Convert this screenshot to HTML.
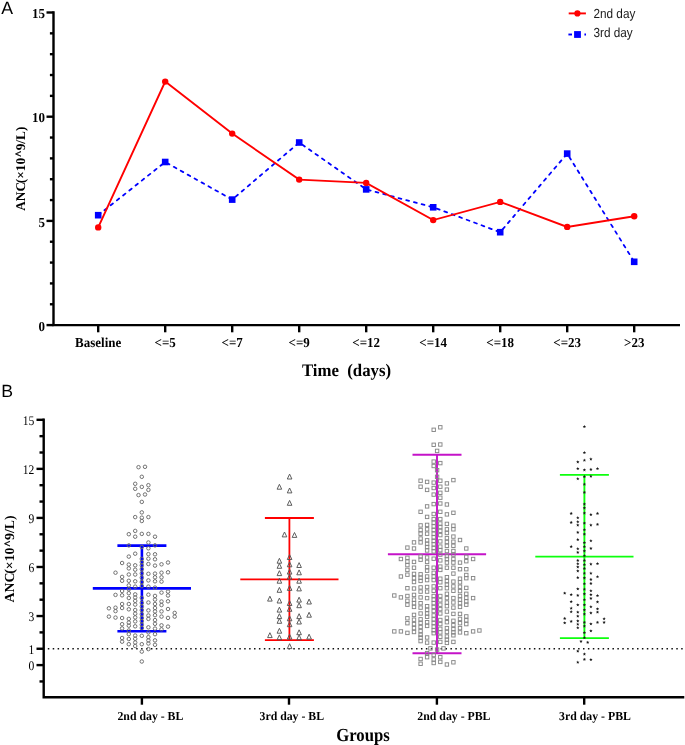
<!DOCTYPE html>
<html><head><meta charset="utf-8"><title>ANC figure</title>
<style>
html,body{margin:0;padding:0;background:#fff;}
body{width:685px;height:745px;overflow:hidden;font-family:"Liberation Sans",sans-serif;}
svg{display:block;will-change:transform;text-rendering:geometricPrecision;}
</style></head>
<body>
<svg width="685" height="745" viewBox="0 0 685 745">
<path d="M53.5 11.3V325.1H680" fill="none" stroke="#000" stroke-width="2.4" stroke-linejoin="miter"/>
<line x1="46.5" y1="325.1" x2="53.5" y2="325.1" stroke="#000" stroke-width="2.4"/>
<line x1="49.9" y1="304.26" x2="53.5" y2="304.26" stroke="#000" stroke-width="2.4"/>
<line x1="49.9" y1="283.42" x2="53.5" y2="283.42" stroke="#000" stroke-width="2.4"/>
<line x1="49.9" y1="262.58" x2="53.5" y2="262.58" stroke="#000" stroke-width="2.4"/>
<line x1="49.9" y1="241.74" x2="53.5" y2="241.74" stroke="#000" stroke-width="2.4"/>
<line x1="46.5" y1="220.9" x2="53.5" y2="220.9" stroke="#000" stroke-width="2.4"/>
<line x1="49.9" y1="200.06" x2="53.5" y2="200.06" stroke="#000" stroke-width="2.4"/>
<line x1="49.9" y1="179.22" x2="53.5" y2="179.22" stroke="#000" stroke-width="2.4"/>
<line x1="49.9" y1="158.38" x2="53.5" y2="158.38" stroke="#000" stroke-width="2.4"/>
<line x1="49.9" y1="137.54" x2="53.5" y2="137.54" stroke="#000" stroke-width="2.4"/>
<line x1="46.5" y1="116.7" x2="53.5" y2="116.7" stroke="#000" stroke-width="2.4"/>
<line x1="49.9" y1="95.86" x2="53.5" y2="95.86" stroke="#000" stroke-width="2.4"/>
<line x1="49.9" y1="75.02" x2="53.5" y2="75.02" stroke="#000" stroke-width="2.4"/>
<line x1="49.9" y1="54.18" x2="53.5" y2="54.18" stroke="#000" stroke-width="2.4"/>
<line x1="49.9" y1="33.34" x2="53.5" y2="33.34" stroke="#000" stroke-width="2.4"/>
<line x1="46.5" y1="12.5" x2="53.5" y2="12.5" stroke="#000" stroke-width="2.4"/>
<text transform="translate(44.9 330.8) scale(1 1.05)" text-anchor="end" font-family='"Liberation Serif", serif' font-size="13" font-weight="bold" fill="#000">0</text>
<text transform="translate(44.9 226.6) scale(1 1.05)" text-anchor="end" font-family='"Liberation Serif", serif' font-size="13" font-weight="bold" fill="#000">5</text>
<text transform="translate(44.9 122.4) scale(1 1.05)" text-anchor="end" font-family='"Liberation Serif", serif' font-size="13" font-weight="bold" fill="#000">10</text>
<text transform="translate(44.9 18.2) scale(1 1.05)" text-anchor="end" font-family='"Liberation Serif", serif' font-size="13" font-weight="bold" fill="#000">15</text>
<line x1="98.2" y1="325.1" x2="98.2" y2="332.3" stroke="#000" stroke-width="2.4"/>
<text transform="translate(98.2 346.8) scale(1 1.05)" text-anchor="middle" font-family='"Liberation Serif", serif' font-size="13" font-weight="bold" fill="#000">Baseline</text>
<line x1="165.2" y1="325.1" x2="165.2" y2="332.3" stroke="#000" stroke-width="2.4"/>
<text transform="translate(165.2 346.8) scale(1 1.05)" text-anchor="middle" font-family='"Liberation Serif", serif' font-size="13" font-weight="bold" fill="#000">&lt;=5</text>
<line x1="232.2" y1="325.1" x2="232.2" y2="332.3" stroke="#000" stroke-width="2.4"/>
<text transform="translate(232.2 346.8) scale(1 1.05)" text-anchor="middle" font-family='"Liberation Serif", serif' font-size="13" font-weight="bold" fill="#000">&lt;=7</text>
<line x1="299.2" y1="325.1" x2="299.2" y2="332.3" stroke="#000" stroke-width="2.4"/>
<text transform="translate(299.2 346.8) scale(1 1.05)" text-anchor="middle" font-family='"Liberation Serif", serif' font-size="13" font-weight="bold" fill="#000">&lt;=9</text>
<line x1="366.2" y1="325.1" x2="366.2" y2="332.3" stroke="#000" stroke-width="2.4"/>
<text transform="translate(366.2 346.8) scale(1 1.05)" text-anchor="middle" font-family='"Liberation Serif", serif' font-size="13" font-weight="bold" fill="#000">&lt;=12</text>
<line x1="433.2" y1="325.1" x2="433.2" y2="332.3" stroke="#000" stroke-width="2.4"/>
<text transform="translate(433.2 346.8) scale(1 1.05)" text-anchor="middle" font-family='"Liberation Serif", serif' font-size="13" font-weight="bold" fill="#000">&lt;=14</text>
<line x1="500.2" y1="325.1" x2="500.2" y2="332.3" stroke="#000" stroke-width="2.4"/>
<text transform="translate(500.2 346.8) scale(1 1.05)" text-anchor="middle" font-family='"Liberation Serif", serif' font-size="13" font-weight="bold" fill="#000">&lt;=18</text>
<line x1="567.2" y1="325.1" x2="567.2" y2="332.3" stroke="#000" stroke-width="2.4"/>
<text transform="translate(567.2 346.8) scale(1 1.05)" text-anchor="middle" font-family='"Liberation Serif", serif' font-size="13" font-weight="bold" fill="#000">&lt;=23</text>
<line x1="634.2" y1="325.1" x2="634.2" y2="332.3" stroke="#000" stroke-width="2.4"/>
<text transform="translate(634.2 346.8) scale(1 1.05)" text-anchor="middle" font-family='"Liberation Serif", serif' font-size="13" font-weight="bold" fill="#000">&gt;23</text>
<text transform="translate(346.5 375.7) scale(1 1.05)" text-anchor="middle" font-family='"Liberation Serif", serif' font-size="16.8" font-weight="bold" fill="#000" xml:space="preserve">Time  (days)</text>
<text transform="translate(24.9 168.7) rotate(-90)" text-anchor="middle" font-family='"Liberation Serif", serif' font-size="13.3" font-weight="bold" fill="#000">ANC<tspan dx="-1.3">(</tspan>×10<tspan font-size="11.5" dy="-1.7" dx="0.6" stroke="#000" stroke-width="0.4">^</tspan><tspan dy="1.7" dx="0.3">9/</tspan><tspan dx="0.1">L)</tspan></text>
<text x="1.3" y="13.8" font-family='"Liberation Sans", sans-serif' font-size="17.7">A</text>
<polyline points="98.2,215.2 165.2,162 232.2,199.6 299.2,142.5 366.2,189.4 433.2,207.3 500.2,232.2 567.2,153.6 634.2,261.8" fill="none" stroke="#0000ff" stroke-width="1.8" stroke-linecap="round" stroke-dasharray="2.9 5.05" stroke-dashoffset="0.0"/>
<rect x="94.9" y="211.9" width="6.6" height="6.6" fill="#0000ff"/>
<rect x="161.9" y="158.7" width="6.6" height="6.6" fill="#0000ff"/>
<rect x="228.9" y="196.3" width="6.6" height="6.6" fill="#0000ff"/>
<rect x="295.9" y="139.2" width="6.6" height="6.6" fill="#0000ff"/>
<rect x="362.9" y="186.1" width="6.6" height="6.6" fill="#0000ff"/>
<rect x="429.9" y="204" width="6.6" height="6.6" fill="#0000ff"/>
<rect x="496.9" y="228.9" width="6.6" height="6.6" fill="#0000ff"/>
<rect x="563.9" y="150.3" width="6.6" height="6.6" fill="#0000ff"/>
<rect x="630.9" y="258.5" width="6.6" height="6.6" fill="#0000ff"/>
<polyline points="98.2,227.4 165.2,81.6 232.2,133.6 299.2,179.6 366.2,182.9 433.2,220.1 500.2,201.9 567.2,226.9 634.2,216.3" fill="none" stroke="#ff0000" stroke-width="1.9"/>
<circle cx="98.2" cy="227.4" r="3.2" fill="#ff0000"/>
<circle cx="165.2" cy="81.6" r="3.2" fill="#ff0000"/>
<circle cx="232.2" cy="133.6" r="3.2" fill="#ff0000"/>
<circle cx="299.2" cy="179.6" r="3.2" fill="#ff0000"/>
<circle cx="366.2" cy="182.9" r="3.2" fill="#ff0000"/>
<circle cx="433.2" cy="220.1" r="3.2" fill="#ff0000"/>
<circle cx="500.2" cy="201.9" r="3.2" fill="#ff0000"/>
<circle cx="567.2" cy="226.9" r="3.2" fill="#ff0000"/>
<circle cx="634.2" cy="216.3" r="3.2" fill="#ff0000"/>
<line x1="568.7" y1="13.4" x2="585.9" y2="13.4" stroke="#ff0000" stroke-width="1.9"/>
<circle cx="577.4" cy="13.4" r="3.1" fill="#ff0000"/>
<line x1="568.4" y1="34.5" x2="572.0" y2="34.5" stroke="#0000ff" stroke-width="1.9"/>
<line x1="584.4" y1="34.5" x2="586.0" y2="34.5" stroke="#0000ff" stroke-width="1.9"/>
<rect x="574.1" y="31.1" width="6.8" height="6.8" fill="#0000ff"/>
<text transform="translate(593.4 17.5) scale(1 1.12)" text-anchor="start" font-family='"Liberation Sans", sans-serif' font-size="11.8" fill="#1a1a1a">2nd day</text>
<text transform="translate(593.4 37.4) scale(1 1.12)" text-anchor="start" font-family='"Liberation Sans", sans-serif' font-size="11.8" fill="#1a1a1a">3rd day</text>
<path d="M43.7 418.61V697.3H684.3" fill="none" stroke="#000" stroke-width="2.4"/>
<line x1="39.5" y1="681.45" x2="43.7" y2="681.45" stroke="#000" stroke-width="2.4"/>
<line x1="36.5" y1="665.1" x2="43.7" y2="665.1" stroke="#000" stroke-width="2.4"/>
<line x1="36.5" y1="648.75" x2="43.7" y2="648.75" stroke="#000" stroke-width="2.4"/>
<line x1="39.5" y1="632.39" x2="43.7" y2="632.39" stroke="#000" stroke-width="2.4"/>
<line x1="36.5" y1="616.04" x2="43.7" y2="616.04" stroke="#000" stroke-width="2.4"/>
<line x1="39.5" y1="599.69" x2="43.7" y2="599.69" stroke="#000" stroke-width="2.4"/>
<line x1="39.5" y1="583.34" x2="43.7" y2="583.34" stroke="#000" stroke-width="2.4"/>
<line x1="36.5" y1="566.98" x2="43.7" y2="566.98" stroke="#000" stroke-width="2.4"/>
<line x1="39.5" y1="550.63" x2="43.7" y2="550.63" stroke="#000" stroke-width="2.4"/>
<line x1="39.5" y1="534.28" x2="43.7" y2="534.28" stroke="#000" stroke-width="2.4"/>
<line x1="36.5" y1="517.92" x2="43.7" y2="517.92" stroke="#000" stroke-width="2.4"/>
<line x1="39.5" y1="501.57" x2="43.7" y2="501.57" stroke="#000" stroke-width="2.4"/>
<line x1="39.5" y1="485.22" x2="43.7" y2="485.22" stroke="#000" stroke-width="2.4"/>
<line x1="36.5" y1="468.86" x2="43.7" y2="468.86" stroke="#000" stroke-width="2.4"/>
<line x1="39.5" y1="452.51" x2="43.7" y2="452.51" stroke="#000" stroke-width="2.4"/>
<line x1="39.5" y1="436.16" x2="43.7" y2="436.16" stroke="#000" stroke-width="2.4"/>
<line x1="36.5" y1="419.81" x2="43.7" y2="419.81" stroke="#000" stroke-width="2.4"/>
<text transform="translate(34.4 670) scale(0.95 1.08)" text-anchor="end" font-family='"Liberation Serif", serif' font-size="12.2" fill="#000">0</text>
<text transform="translate(34.4 653.65) scale(0.95 1.08)" text-anchor="end" font-family='"Liberation Serif", serif' font-size="12.2" fill="#000">1</text>
<text transform="translate(34.4 620.94) scale(0.95 1.08)" text-anchor="end" font-family='"Liberation Serif", serif' font-size="12.2" fill="#000">3</text>
<text transform="translate(34.4 571.88) scale(0.95 1.08)" text-anchor="end" font-family='"Liberation Serif", serif' font-size="12.2" fill="#000">6</text>
<text transform="translate(34.4 522.82) scale(0.95 1.08)" text-anchor="end" font-family='"Liberation Serif", serif' font-size="12.2" fill="#000">9</text>
<text transform="translate(34.4 473.76) scale(0.95 1.08)" text-anchor="end" font-family='"Liberation Serif", serif' font-size="12.2" fill="#000">12</text>
<text transform="translate(34.4 424.7) scale(0.95 1.08)" text-anchor="end" font-family='"Liberation Serif", serif' font-size="12.2" fill="#000">15</text>
<line x1="47.8" y1="648.75" x2="684" y2="648.75" stroke="#111" stroke-width="1.5" stroke-dasharray="1.5 3.41"/>
<line x1="141.9" y1="697.3" x2="141.9" y2="704.7" stroke="#000" stroke-width="2.4"/>
<text transform="translate(150.4 719.9) scale(1 1.04)" text-anchor="middle" font-family='"Liberation Serif", serif' font-size="11.8" font-weight="bold" fill="#000" xml:space="preserve">2nd day - BL</text>
<line x1="289" y1="697.3" x2="289" y2="704.7" stroke="#000" stroke-width="2.4"/>
<text transform="translate(291.8 719.9) scale(1 1.04)" text-anchor="middle" font-family='"Liberation Serif", serif' font-size="11.8" font-weight="bold" fill="#000" xml:space="preserve">3rd day - BL</text>
<line x1="436.9" y1="697.3" x2="436.9" y2="704.7" stroke="#000" stroke-width="2.4"/>
<text transform="translate(453.9 719.9) scale(1 1.04)" text-anchor="middle" font-family='"Liberation Serif", serif' font-size="11.8" font-weight="bold" fill="#000" xml:space="preserve">2nd day - PBL</text>
<line x1="584.2" y1="697.3" x2="584.2" y2="704.7" stroke="#000" stroke-width="2.4"/>
<text transform="translate(595 719.9) scale(1 1.04)" text-anchor="middle" font-family='"Liberation Serif", serif' font-size="11.8" font-weight="bold" fill="#000" xml:space="preserve">3rd day - PBL</text>
<text transform="translate(363 741) scale(1 1.1)" text-anchor="middle" font-family='"Liberation Serif", serif' font-size="16.7" font-weight="bold" fill="#000">Groups</text>
<text transform="translate(13.8 558.9) rotate(-90)" text-anchor="middle" font-family='"Liberation Serif", serif' font-size="13.8" font-weight="bold" fill="#000">ANC<tspan dx="-1.3">(</tspan>×10<tspan font-size="11.5" dy="-1.7" dx="0.6" stroke="#000" stroke-width="0.4">^</tspan><tspan dy="1.7" dx="0.3">9/</tspan><tspan dx="0.1">L)</tspan></text>
<text x="1.2" y="396.9" font-family='"Liberation Sans", sans-serif' font-size="17.7">B</text>
<g stroke="#0000ff" stroke-width="2.6">
<line x1="92.8" y1="588.4" x2="191" y2="588.4"/>
<line x1="117.4" y1="545.6" x2="166.4" y2="545.6"/>
<line x1="117.4" y1="631.2" x2="166.4" y2="631.2"/>
<line x1="141.9" y1="545.6" x2="141.9" y2="631.2"/>
</g>
<g stroke="#ff0000" stroke-width="1.8">
<line x1="240.3" y1="579.3" x2="338.5" y2="579.3"/>
<line x1="264.9" y1="518" x2="313.9" y2="518"/>
<line x1="264.9" y1="640.2" x2="313.9" y2="640.2"/>
<line x1="289.4" y1="518" x2="289.4" y2="640.2"/>
</g>
<g stroke="#c413c8" stroke-width="1.9">
<line x1="387.9" y1="554.3" x2="486.1" y2="554.3"/>
<line x1="412.5" y1="454.8" x2="461.5" y2="454.8"/>
<line x1="412.5" y1="653.2" x2="461.5" y2="653.2"/>
<line x1="437" y1="454.8" x2="437" y2="653.2"/>
</g>
<g stroke="#0dff0d" stroke-width="1.9">
<line x1="535.3" y1="556.6" x2="633.5" y2="556.6"/>
<line x1="559.9" y1="474.9" x2="608.9" y2="474.9"/>
<line x1="559.9" y1="638.1" x2="608.9" y2="638.1"/>
<line x1="584.4" y1="474.9" x2="584.4" y2="638.1"/>
</g>
<g fill="none" stroke="#6b6b6b" stroke-width="0.95">
<circle cx="138.5" cy="467.2" r="1.75"/>
<circle cx="145" cy="466.8" r="1.75"/>
<circle cx="141.8" cy="476.8" r="1.75"/>
<circle cx="135.2" cy="483.8" r="1.75"/>
<circle cx="148.4" cy="485.2" r="1.75"/>
<circle cx="141.8" cy="486.9" r="1.75"/>
<circle cx="135.2" cy="488.8" r="1.75"/>
<circle cx="148.4" cy="489.9" r="1.75"/>
<circle cx="138.5" cy="495.1" r="1.75"/>
<circle cx="145" cy="494.5" r="1.75"/>
<circle cx="141.8" cy="501.9" r="1.75"/>
<circle cx="141.8" cy="512.4" r="1.75"/>
<circle cx="135.2" cy="517.1" r="1.75"/>
<circle cx="141.8" cy="517.7" r="1.75"/>
<circle cx="148.4" cy="517.1" r="1.75"/>
<circle cx="141.8" cy="521" r="1.75"/>
<circle cx="135.2" cy="530.9" r="1.75"/>
<circle cx="128.8" cy="534.2" r="1.75"/>
<circle cx="141.8" cy="533.9" r="1.75"/>
<circle cx="148.4" cy="533.9" r="1.75"/>
<circle cx="135.2" cy="536.7" r="1.75"/>
<circle cx="155" cy="536.7" r="1.75"/>
<circle cx="148.4" cy="542.5" r="1.75"/>
<circle cx="128.8" cy="545.4" r="1.75"/>
<circle cx="141.8" cy="547" r="1.75"/>
<circle cx="155" cy="545.4" r="1.75"/>
<circle cx="148.4" cy="548.3" r="1.75"/>
<circle cx="135.2" cy="553.7" r="1.75"/>
<circle cx="128.8" cy="556.6" r="1.75"/>
<circle cx="148.4" cy="554.1" r="1.75"/>
<circle cx="155" cy="554.3" r="1.75"/>
<circle cx="148.4" cy="558.7" r="1.75"/>
<circle cx="155" cy="559.3" r="1.75"/>
<circle cx="122.1" cy="563" r="1.75"/>
<circle cx="128.8" cy="564.6" r="1.75"/>
<circle cx="128.8" cy="568.4" r="1.75"/>
<circle cx="135.2" cy="565.3" r="1.75"/>
<circle cx="135.2" cy="569.7" r="1.75"/>
<circle cx="148.4" cy="564" r="1.75"/>
<circle cx="155" cy="565.6" r="1.75"/>
<circle cx="161.5" cy="564.3" r="1.75"/>
<circle cx="168" cy="562.5" r="1.75"/>
<circle cx="115.5" cy="572.7" r="1.75"/>
<circle cx="108.9" cy="608.3" r="1.75"/>
<circle cx="108.9" cy="616.6" r="1.75"/>
<circle cx="115.5" cy="594.9" r="1.75"/>
<circle cx="115.5" cy="607.7" r="1.75"/>
<circle cx="115.5" cy="611.1" r="1.75"/>
<circle cx="115.5" cy="617.6" r="1.75"/>
<circle cx="122.1" cy="576.9" r="1.75"/>
<circle cx="122.1" cy="580.8" r="1.75"/>
<circle cx="122.1" cy="591" r="1.75"/>
<circle cx="122.1" cy="595.3" r="1.75"/>
<circle cx="122.1" cy="604" r="1.75"/>
<circle cx="122.1" cy="608" r="1.75"/>
<circle cx="122.1" cy="618" r="1.75"/>
<circle cx="122.1" cy="624.2" r="1.75"/>
<circle cx="122.1" cy="628.4" r="1.75"/>
<circle cx="122.1" cy="638" r="1.75"/>
<circle cx="122.1" cy="641.7" r="1.75"/>
<circle cx="128.8" cy="574.5" r="1.75"/>
<circle cx="128.8" cy="580.8" r="1.75"/>
<circle cx="128.8" cy="585.4" r="1.75"/>
<circle cx="128.8" cy="589.3" r="1.75"/>
<circle cx="128.8" cy="593.2" r="1.75"/>
<circle cx="128.8" cy="598" r="1.75"/>
<circle cx="128.8" cy="604" r="1.75"/>
<circle cx="128.8" cy="609.3" r="1.75"/>
<circle cx="128.8" cy="618.9" r="1.75"/>
<circle cx="128.8" cy="622.6" r="1.75"/>
<circle cx="128.8" cy="625.7" r="1.75"/>
<circle cx="128.8" cy="630.5" r="1.75"/>
<circle cx="128.8" cy="634.2" r="1.75"/>
<circle cx="128.8" cy="639" r="1.75"/>
<circle cx="128.8" cy="644.2" r="1.75"/>
<circle cx="135.2" cy="574.5" r="1.75"/>
<circle cx="135.2" cy="581.3" r="1.75"/>
<circle cx="135.2" cy="586.6" r="1.75"/>
<circle cx="135.2" cy="594.4" r="1.75"/>
<circle cx="135.2" cy="597.5" r="1.75"/>
<circle cx="135.2" cy="600.9" r="1.75"/>
<circle cx="135.2" cy="604.6" r="1.75"/>
<circle cx="135.2" cy="610" r="1.75"/>
<circle cx="135.2" cy="613.7" r="1.75"/>
<circle cx="135.2" cy="617.4" r="1.75"/>
<circle cx="135.2" cy="621.4" r="1.75"/>
<circle cx="135.2" cy="626.3" r="1.75"/>
<circle cx="135.2" cy="635.5" r="1.75"/>
<circle cx="135.2" cy="638.8" r="1.75"/>
<circle cx="135.2" cy="642.5" r="1.75"/>
<circle cx="135.2" cy="646" r="1.75"/>
<circle cx="141.8" cy="558.9" r="1.75"/>
<circle cx="141.8" cy="562.2" r="1.75"/>
<circle cx="141.8" cy="565.4" r="1.75"/>
<circle cx="141.8" cy="569.2" r="1.75"/>
<circle cx="141.8" cy="573.4" r="1.75"/>
<circle cx="141.8" cy="577.6" r="1.75"/>
<circle cx="141.8" cy="582.1" r="1.75"/>
<circle cx="141.8" cy="586.1" r="1.75"/>
<circle cx="141.8" cy="597.8" r="1.75"/>
<circle cx="141.8" cy="602.8" r="1.75"/>
<circle cx="141.8" cy="606.5" r="1.75"/>
<circle cx="141.8" cy="610.2" r="1.75"/>
<circle cx="141.8" cy="614.3" r="1.75"/>
<circle cx="141.8" cy="617.9" r="1.75"/>
<circle cx="141.8" cy="621.2" r="1.75"/>
<circle cx="141.8" cy="624.6" r="1.75"/>
<circle cx="141.8" cy="628" r="1.75"/>
<circle cx="141.8" cy="635.8" r="1.75"/>
<circle cx="141.8" cy="644.2" r="1.75"/>
<circle cx="141.8" cy="651.6" r="1.75"/>
<circle cx="141.8" cy="661.5" r="1.75"/>
<circle cx="148.4" cy="573.8" r="1.75"/>
<circle cx="148.4" cy="580.4" r="1.75"/>
<circle cx="148.4" cy="586.6" r="1.75"/>
<circle cx="148.4" cy="594.7" r="1.75"/>
<circle cx="148.4" cy="602.5" r="1.75"/>
<circle cx="148.4" cy="610.4" r="1.75"/>
<circle cx="148.4" cy="615.5" r="1.75"/>
<circle cx="148.4" cy="618.9" r="1.75"/>
<circle cx="148.4" cy="627.3" r="1.75"/>
<circle cx="148.4" cy="632.4" r="1.75"/>
<circle cx="148.4" cy="637.1" r="1.75"/>
<circle cx="148.4" cy="640.4" r="1.75"/>
<circle cx="148.4" cy="643.5" r="1.75"/>
<circle cx="148.4" cy="649.1" r="1.75"/>
<circle cx="155" cy="573.6" r="1.75"/>
<circle cx="155" cy="577.3" r="1.75"/>
<circle cx="155" cy="581.3" r="1.75"/>
<circle cx="155" cy="587.6" r="1.75"/>
<circle cx="155" cy="595.9" r="1.75"/>
<circle cx="155" cy="599.6" r="1.75"/>
<circle cx="155" cy="604" r="1.75"/>
<circle cx="155" cy="608" r="1.75"/>
<circle cx="155" cy="611.4" r="1.75"/>
<circle cx="155" cy="615.2" r="1.75"/>
<circle cx="155" cy="620.1" r="1.75"/>
<circle cx="155" cy="623.8" r="1.75"/>
<circle cx="155" cy="628.6" r="1.75"/>
<circle cx="155" cy="634.2" r="1.75"/>
<circle cx="155" cy="640.4" r="1.75"/>
<circle cx="155" cy="644.8" r="1.75"/>
<circle cx="161.5" cy="572.7" r="1.75"/>
<circle cx="161.5" cy="577.3" r="1.75"/>
<circle cx="161.5" cy="581.6" r="1.75"/>
<circle cx="161.5" cy="592.6" r="1.75"/>
<circle cx="161.5" cy="601.5" r="1.75"/>
<circle cx="161.5" cy="605" r="1.75"/>
<circle cx="161.5" cy="611.4" r="1.75"/>
<circle cx="161.5" cy="616.6" r="1.75"/>
<circle cx="161.5" cy="625.3" r="1.75"/>
<circle cx="161.5" cy="629.3" r="1.75"/>
<circle cx="168" cy="572.3" r="1.75"/>
<circle cx="168" cy="591.6" r="1.75"/>
<circle cx="168" cy="595.5" r="1.75"/>
<circle cx="168" cy="601.3" r="1.75"/>
<circle cx="168" cy="609" r="1.75"/>
<circle cx="168" cy="617.9" r="1.75"/>
<circle cx="168" cy="626.6" r="1.75"/>
<circle cx="174.7" cy="612.9" r="1.75"/>
<circle cx="174.7" cy="616.6" r="1.75"/>
</g>
<g fill="none" stroke="#555" stroke-width="0.95" stroke-linejoin="miter">
<path d="M289.6 474.1L291.9 479H287.3Z"/>
<path d="M279.4 484.3L281.7 489.2H277.1Z"/>
<path d="M289.6 488L291.9 492.9H287.3Z"/>
<path d="M289.6 500.4L291.9 505.3H287.3Z"/>
<path d="M284.5 532L286.8 536.9H282.2Z"/>
<path d="M294.5 532.5L296.8 537.4H292.2Z"/>
<path d="M279.4 558.3L281.7 563.2H277.1Z"/>
<path d="M279.4 563.4L281.7 568.3H277.1Z"/>
<path d="M279.4 570.7L281.7 575.6H277.1Z"/>
<path d="M279.4 578.3L281.7 583.2H277.1Z"/>
<path d="M279.4 587.4L281.7 592.3H277.1Z"/>
<path d="M279.4 598.1L281.7 603H277.1Z"/>
<path d="M279.4 607.2L281.7 612.1H277.1Z"/>
<path d="M279.4 613.7L281.7 618.6H277.1Z"/>
<path d="M279.4 618.4L281.7 623.3H277.1Z"/>
<path d="M279.4 628.3L281.7 633.2H277.1Z"/>
<path d="M279.4 634.9L281.7 639.8H277.1Z"/>
<path d="M289.6 554.6L291.9 559.5H287.3Z"/>
<path d="M289.6 561.9L291.9 566.8H287.3Z"/>
<path d="M289.6 569.2L291.9 574.1H287.3Z"/>
<path d="M289.6 574.3L291.9 579.2H287.3Z"/>
<path d="M289.6 585.5L291.9 590.4H287.3Z"/>
<path d="M289.6 600.6L291.9 605.5H287.3Z"/>
<path d="M289.6 606.4L291.9 611.3H287.3Z"/>
<path d="M289.6 615.9L291.9 620.8H287.3Z"/>
<path d="M289.6 621.8L291.9 626.7H287.3Z"/>
<path d="M289.6 634.2L291.9 639.1H287.3Z"/>
<path d="M289.6 643.7L291.9 648.6H287.3Z"/>
<path d="M299.1 562.6L301.4 567.5H296.8Z"/>
<path d="M299.1 569.9L301.4 574.8H296.8Z"/>
<path d="M299.1 578.3L301.4 583.2H296.8Z"/>
<path d="M299.1 586L301.4 590.9H296.8Z"/>
<path d="M299.1 597.2L301.4 602.1H296.8Z"/>
<path d="M299.1 602.8L301.4 607.7H296.8Z"/>
<path d="M299.1 613.7L301.4 618.6H296.8Z"/>
<path d="M299.1 619.1L301.4 624H296.8Z"/>
<path d="M299.1 629.8L301.4 634.7H296.8Z"/>
<path d="M299.1 634.9L301.4 639.8H296.8Z"/>
<path d="M269.9 596.2L272.2 601.1H267.6Z"/>
<path d="M269.9 632.7L272.2 637.6H267.6Z"/>
<path d="M309.1 599.1L311.4 604H306.8Z"/>
<path d="M309.1 612.3L311.4 617.2H306.8Z"/>
<path d="M309.1 634.2L311.4 639.1H306.8Z"/>
</g>
<g fill="none" stroke="#878787" stroke-width="0.95">
<rect x="432" y="428.1" width="3.4" height="3.4"/>
<rect x="438.6" y="425.6" width="3.4" height="3.4"/>
<rect x="432" y="443.1" width="3.4" height="3.4"/>
<rect x="438.6" y="442.8" width="3.4" height="3.4"/>
<rect x="435.4" y="449.2" width="3.4" height="3.4"/>
<rect x="432" y="459.9" width="3.4" height="3.4"/>
<rect x="432" y="464.3" width="3.4" height="3.4"/>
<rect x="438.6" y="461.4" width="3.4" height="3.4"/>
<rect x="435.4" y="468.5" width="3.4" height="3.4"/>
<rect x="435.4" y="475.1" width="3.4" height="3.4"/>
<rect x="418.9" y="479" width="3.4" height="3.4"/>
<rect x="425.4" y="480.2" width="3.4" height="3.4"/>
<rect x="432" y="480.9" width="3.4" height="3.4"/>
<rect x="438.6" y="479" width="3.4" height="3.4"/>
<rect x="445.2" y="481.7" width="3.4" height="3.4"/>
<rect x="451.7" y="478.4" width="3.4" height="3.4"/>
<rect x="418.9" y="485" width="3.4" height="3.4"/>
<rect x="425.4" y="488.2" width="3.4" height="3.4"/>
<rect x="432" y="486.3" width="3.4" height="3.4"/>
<rect x="438.6" y="485" width="3.4" height="3.4"/>
<rect x="445.2" y="487.9" width="3.4" height="3.4"/>
<rect x="432" y="492.9" width="3.4" height="3.4"/>
<rect x="438.6" y="491.1" width="3.4" height="3.4"/>
<rect x="438.6" y="496" width="3.4" height="3.4"/>
<rect x="425.4" y="504.7" width="3.4" height="3.4"/>
<rect x="432" y="502.4" width="3.4" height="3.4"/>
<rect x="438.6" y="501.8" width="3.4" height="3.4"/>
<rect x="445.2" y="502.8" width="3.4" height="3.4"/>
<rect x="432" y="512.3" width="3.4" height="3.4"/>
<rect x="432" y="517.4" width="3.4" height="3.4"/>
<rect x="432" y="521" width="3.4" height="3.4"/>
<rect x="432" y="524.7" width="3.4" height="3.4"/>
<rect x="432" y="528.3" width="3.4" height="3.4"/>
<rect x="432" y="532" width="3.4" height="3.4"/>
<rect x="432" y="535.6" width="3.4" height="3.4"/>
<rect x="432" y="539.3" width="3.4" height="3.4"/>
<rect x="432" y="542.6" width="3.4" height="3.4"/>
<rect x="438.6" y="510.1" width="3.4" height="3.4"/>
<rect x="438.6" y="517.4" width="3.4" height="3.4"/>
<rect x="438.6" y="521.8" width="3.4" height="3.4"/>
<rect x="438.6" y="525.4" width="3.4" height="3.4"/>
<rect x="438.6" y="529.1" width="3.4" height="3.4"/>
<rect x="438.6" y="533.4" width="3.4" height="3.4"/>
<rect x="438.6" y="539.7" width="3.4" height="3.4"/>
<rect x="425.4" y="515.2" width="3.4" height="3.4"/>
<rect x="425.4" y="523.2" width="3.4" height="3.4"/>
<rect x="425.4" y="527.6" width="3.4" height="3.4"/>
<rect x="425.4" y="532" width="3.4" height="3.4"/>
<rect x="425.4" y="538.6" width="3.4" height="3.4"/>
<rect x="425.4" y="542.2" width="3.4" height="3.4"/>
<rect x="445.2" y="512.7" width="3.4" height="3.4"/>
<rect x="445.2" y="522.2" width="3.4" height="3.4"/>
<rect x="445.2" y="527.6" width="3.4" height="3.4"/>
<rect x="445.2" y="531.3" width="3.4" height="3.4"/>
<rect x="445.2" y="536.4" width="3.4" height="3.4"/>
<rect x="445.2" y="540.3" width="3.4" height="3.4"/>
<rect x="418.9" y="510.1" width="3.4" height="3.4"/>
<rect x="418.9" y="523.7" width="3.4" height="3.4"/>
<rect x="418.9" y="528.3" width="3.4" height="3.4"/>
<rect x="418.9" y="532" width="3.4" height="3.4"/>
<rect x="418.9" y="536.8" width="3.4" height="3.4"/>
<rect x="418.9" y="540.7" width="3.4" height="3.4"/>
<rect x="451.7" y="511.1" width="3.4" height="3.4"/>
<rect x="451.7" y="524" width="3.4" height="3.4"/>
<rect x="451.7" y="527.6" width="3.4" height="3.4"/>
<rect x="451.7" y="534.9" width="3.4" height="3.4"/>
<rect x="451.7" y="540" width="3.4" height="3.4"/>
<rect x="458.3" y="538.3" width="3.4" height="3.4"/>
<rect x="412.3" y="540.7" width="3.4" height="3.4"/>
<rect x="399.2" y="557.3" width="3.4" height="3.4"/>
<rect x="399.2" y="574.8" width="3.4" height="3.4"/>
<rect x="405.7" y="545.9" width="3.4" height="3.4"/>
<rect x="405.7" y="556.1" width="3.4" height="3.4"/>
<rect x="405.7" y="559.9" width="3.4" height="3.4"/>
<rect x="405.7" y="563.4" width="3.4" height="3.4"/>
<rect x="405.7" y="568.2" width="3.4" height="3.4"/>
<rect x="405.7" y="573" width="3.4" height="3.4"/>
<rect x="405.7" y="586.5" width="3.4" height="3.4"/>
<rect x="412.3" y="546.8" width="3.4" height="3.4"/>
<rect x="412.3" y="560.2" width="3.4" height="3.4"/>
<rect x="412.3" y="566" width="3.4" height="3.4"/>
<rect x="412.3" y="572.2" width="3.4" height="3.4"/>
<rect x="412.3" y="576.5" width="3.4" height="3.4"/>
<rect x="412.3" y="580.3" width="3.4" height="3.4"/>
<rect x="412.3" y="586.8" width="3.4" height="3.4"/>
<rect x="418.9" y="554.7" width="3.4" height="3.4"/>
<rect x="418.9" y="558" width="3.4" height="3.4"/>
<rect x="418.9" y="572.6" width="3.4" height="3.4"/>
<rect x="418.9" y="576" width="3.4" height="3.4"/>
<rect x="418.9" y="579.2" width="3.4" height="3.4"/>
<rect x="418.9" y="585.7" width="3.4" height="3.4"/>
<rect x="425.4" y="545.3" width="3.4" height="3.4"/>
<rect x="425.4" y="548.8" width="3.4" height="3.4"/>
<rect x="425.4" y="555.8" width="3.4" height="3.4"/>
<rect x="425.4" y="560.2" width="3.4" height="3.4"/>
<rect x="425.4" y="565.3" width="3.4" height="3.4"/>
<rect x="425.4" y="569" width="3.4" height="3.4"/>
<rect x="425.4" y="574.8" width="3.4" height="3.4"/>
<rect x="425.4" y="578.4" width="3.4" height="3.4"/>
<rect x="425.4" y="585.3" width="3.4" height="3.4"/>
<rect x="432" y="546.3" width="3.4" height="3.4"/>
<rect x="432" y="549.7" width="3.4" height="3.4"/>
<rect x="432" y="557" width="3.4" height="3.4"/>
<rect x="432" y="566" width="3.4" height="3.4"/>
<rect x="432" y="571.1" width="3.4" height="3.4"/>
<rect x="432" y="574.8" width="3.4" height="3.4"/>
<rect x="432" y="578.4" width="3.4" height="3.4"/>
<rect x="432" y="584.7" width="3.4" height="3.4"/>
<rect x="438.6" y="544.9" width="3.4" height="3.4"/>
<rect x="438.6" y="548.5" width="3.4" height="3.4"/>
<rect x="438.6" y="552.9" width="3.4" height="3.4"/>
<rect x="438.6" y="558.7" width="3.4" height="3.4"/>
<rect x="438.6" y="564.9" width="3.4" height="3.4"/>
<rect x="438.6" y="568.2" width="3.4" height="3.4"/>
<rect x="438.6" y="577" width="3.4" height="3.4"/>
<rect x="438.6" y="580.6" width="3.4" height="3.4"/>
<rect x="438.6" y="586.5" width="3.4" height="3.4"/>
<rect x="445.2" y="544.1" width="3.4" height="3.4"/>
<rect x="445.2" y="549.3" width="3.4" height="3.4"/>
<rect x="445.2" y="554.4" width="3.4" height="3.4"/>
<rect x="445.2" y="557.3" width="3.4" height="3.4"/>
<rect x="445.2" y="560.9" width="3.4" height="3.4"/>
<rect x="445.2" y="566" width="3.4" height="3.4"/>
<rect x="445.2" y="575.5" width="3.4" height="3.4"/>
<rect x="445.2" y="579.5" width="3.4" height="3.4"/>
<rect x="445.2" y="582.8" width="3.4" height="3.4"/>
<rect x="445.2" y="586.5" width="3.4" height="3.4"/>
<rect x="451.7" y="544.1" width="3.4" height="3.4"/>
<rect x="451.7" y="549.3" width="3.4" height="3.4"/>
<rect x="451.7" y="552.9" width="3.4" height="3.4"/>
<rect x="451.7" y="557.3" width="3.4" height="3.4"/>
<rect x="451.7" y="560.9" width="3.4" height="3.4"/>
<rect x="451.7" y="566" width="3.4" height="3.4"/>
<rect x="451.7" y="571.9" width="3.4" height="3.4"/>
<rect x="451.7" y="579.9" width="3.4" height="3.4"/>
<rect x="451.7" y="584.7" width="3.4" height="3.4"/>
<rect x="458.3" y="560.9" width="3.4" height="3.4"/>
<rect x="458.3" y="567.5" width="3.4" height="3.4"/>
<rect x="458.3" y="577" width="3.4" height="3.4"/>
<rect x="458.3" y="580.6" width="3.4" height="3.4"/>
<rect x="458.3" y="585" width="3.4" height="3.4"/>
<rect x="464.6" y="546.8" width="3.4" height="3.4"/>
<rect x="464.6" y="555.1" width="3.4" height="3.4"/>
<rect x="464.6" y="559.5" width="3.4" height="3.4"/>
<rect x="464.6" y="567.5" width="3.4" height="3.4"/>
<rect x="464.6" y="573.3" width="3.4" height="3.4"/>
<rect x="464.6" y="576.5" width="3.4" height="3.4"/>
<rect x="464.6" y="586.2" width="3.4" height="3.4"/>
<rect x="471.4" y="557.3" width="3.4" height="3.4"/>
<rect x="471.4" y="576.5" width="3.4" height="3.4"/>
<rect x="392.6" y="593.8" width="3.4" height="3.4"/>
<rect x="392.6" y="629.7" width="3.4" height="3.4"/>
<rect x="399.2" y="595.7" width="3.4" height="3.4"/>
<rect x="399.2" y="629.7" width="3.4" height="3.4"/>
<rect x="405.7" y="594.3" width="3.4" height="3.4"/>
<rect x="405.7" y="599.1" width="3.4" height="3.4"/>
<rect x="405.7" y="603" width="3.4" height="3.4"/>
<rect x="405.7" y="616.6" width="3.4" height="3.4"/>
<rect x="405.7" y="621.5" width="3.4" height="3.4"/>
<rect x="405.7" y="631.2" width="3.4" height="3.4"/>
<rect x="412.3" y="593.2" width="3.4" height="3.4"/>
<rect x="412.3" y="597.9" width="3.4" height="3.4"/>
<rect x="412.3" y="601.5" width="3.4" height="3.4"/>
<rect x="412.3" y="605.2" width="3.4" height="3.4"/>
<rect x="412.3" y="613.2" width="3.4" height="3.4"/>
<rect x="412.3" y="618" width="3.4" height="3.4"/>
<rect x="412.3" y="622.4" width="3.4" height="3.4"/>
<rect x="412.3" y="626.4" width="3.4" height="3.4"/>
<rect x="412.3" y="630.3" width="3.4" height="3.4"/>
<rect x="418.9" y="589.9" width="3.4" height="3.4"/>
<rect x="418.9" y="595.7" width="3.4" height="3.4"/>
<rect x="418.9" y="601.5" width="3.4" height="3.4"/>
<rect x="418.9" y="605.9" width="3.4" height="3.4"/>
<rect x="418.9" y="611.8" width="3.4" height="3.4"/>
<rect x="418.9" y="617.6" width="3.4" height="3.4"/>
<rect x="418.9" y="621.3" width="3.4" height="3.4"/>
<rect x="418.9" y="625.3" width="3.4" height="3.4"/>
<rect x="418.9" y="629.3" width="3.4" height="3.4"/>
<rect x="425.4" y="589.9" width="3.4" height="3.4"/>
<rect x="425.4" y="596.4" width="3.4" height="3.4"/>
<rect x="425.4" y="604.5" width="3.4" height="3.4"/>
<rect x="425.4" y="608.1" width="3.4" height="3.4"/>
<rect x="425.4" y="611.8" width="3.4" height="3.4"/>
<rect x="425.4" y="615.1" width="3.4" height="3.4"/>
<rect x="425.4" y="620.5" width="3.4" height="3.4"/>
<rect x="425.4" y="624.2" width="3.4" height="3.4"/>
<rect x="432" y="589.1" width="3.4" height="3.4"/>
<rect x="432" y="594.3" width="3.4" height="3.4"/>
<rect x="432" y="597.9" width="3.4" height="3.4"/>
<rect x="432" y="601.5" width="3.4" height="3.4"/>
<rect x="432" y="605.2" width="3.4" height="3.4"/>
<rect x="432" y="609.3" width="3.4" height="3.4"/>
<rect x="432" y="613.7" width="3.4" height="3.4"/>
<rect x="432" y="617.6" width="3.4" height="3.4"/>
<rect x="432" y="621.3" width="3.4" height="3.4"/>
<rect x="432" y="624.9" width="3.4" height="3.4"/>
<rect x="432" y="628.6" width="3.4" height="3.4"/>
<rect x="432" y="631.5" width="3.4" height="3.4"/>
<rect x="438.6" y="594.3" width="3.4" height="3.4"/>
<rect x="438.6" y="598.6" width="3.4" height="3.4"/>
<rect x="438.6" y="603" width="3.4" height="3.4"/>
<rect x="438.6" y="607.4" width="3.4" height="3.4"/>
<rect x="438.6" y="611.8" width="3.4" height="3.4"/>
<rect x="438.6" y="618.3" width="3.4" height="3.4"/>
<rect x="438.6" y="622.4" width="3.4" height="3.4"/>
<rect x="438.6" y="627.1" width="3.4" height="3.4"/>
<rect x="438.6" y="630.7" width="3.4" height="3.4"/>
<rect x="445.2" y="592.1" width="3.4" height="3.4"/>
<rect x="445.2" y="596.4" width="3.4" height="3.4"/>
<rect x="445.2" y="600.8" width="3.4" height="3.4"/>
<rect x="445.2" y="604.5" width="3.4" height="3.4"/>
<rect x="445.2" y="609.9" width="3.4" height="3.4"/>
<rect x="445.2" y="616.1" width="3.4" height="3.4"/>
<rect x="445.2" y="620.5" width="3.4" height="3.4"/>
<rect x="445.2" y="626.4" width="3.4" height="3.4"/>
<rect x="445.2" y="630.3" width="3.4" height="3.4"/>
<rect x="451.7" y="589.1" width="3.4" height="3.4"/>
<rect x="451.7" y="596.4" width="3.4" height="3.4"/>
<rect x="451.7" y="600.8" width="3.4" height="3.4"/>
<rect x="451.7" y="605.9" width="3.4" height="3.4"/>
<rect x="451.7" y="612.2" width="3.4" height="3.4"/>
<rect x="451.7" y="619.1" width="3.4" height="3.4"/>
<rect x="451.7" y="623.4" width="3.4" height="3.4"/>
<rect x="451.7" y="627.4" width="3.4" height="3.4"/>
<rect x="451.7" y="630.7" width="3.4" height="3.4"/>
<rect x="458.3" y="589.4" width="3.4" height="3.4"/>
<rect x="458.3" y="594.3" width="3.4" height="3.4"/>
<rect x="458.3" y="597.9" width="3.4" height="3.4"/>
<rect x="458.3" y="601.5" width="3.4" height="3.4"/>
<rect x="458.3" y="605.2" width="3.4" height="3.4"/>
<rect x="458.3" y="612.2" width="3.4" height="3.4"/>
<rect x="458.3" y="617.2" width="3.4" height="3.4"/>
<rect x="458.3" y="621.5" width="3.4" height="3.4"/>
<rect x="458.3" y="626.4" width="3.4" height="3.4"/>
<rect x="458.3" y="630.7" width="3.4" height="3.4"/>
<rect x="464.6" y="592.1" width="3.4" height="3.4"/>
<rect x="464.6" y="596.1" width="3.4" height="3.4"/>
<rect x="464.6" y="599.7" width="3.4" height="3.4"/>
<rect x="464.6" y="603" width="3.4" height="3.4"/>
<rect x="464.6" y="614.7" width="3.4" height="3.4"/>
<rect x="464.6" y="618.6" width="3.4" height="3.4"/>
<rect x="464.6" y="622.4" width="3.4" height="3.4"/>
<rect x="464.6" y="631.5" width="3.4" height="3.4"/>
<rect x="471.4" y="596.4" width="3.4" height="3.4"/>
<rect x="471.4" y="629.7" width="3.4" height="3.4"/>
<rect x="477.7" y="628.8" width="3.4" height="3.4"/>
<rect x="418.9" y="633.1" width="3.4" height="3.4"/>
<rect x="418.9" y="635.8" width="3.4" height="3.4"/>
<rect x="418.9" y="639.4" width="3.4" height="3.4"/>
<rect x="418.9" y="657.3" width="3.4" height="3.4"/>
<rect x="418.9" y="662.1" width="3.4" height="3.4"/>
<rect x="425.4" y="635.8" width="3.4" height="3.4"/>
<rect x="425.4" y="640.9" width="3.4" height="3.4"/>
<rect x="425.4" y="651.4" width="3.4" height="3.4"/>
<rect x="425.4" y="655.5" width="3.4" height="3.4"/>
<rect x="428.7" y="646.7" width="3.4" height="3.4"/>
<rect x="432" y="640.9" width="3.4" height="3.4"/>
<rect x="432" y="653.3" width="3.4" height="3.4"/>
<rect x="432" y="657.7" width="3.4" height="3.4"/>
<rect x="432" y="661.3" width="3.4" height="3.4"/>
<rect x="435.4" y="647.9" width="3.4" height="3.4"/>
<rect x="438.6" y="635.1" width="3.4" height="3.4"/>
<rect x="438.6" y="640.2" width="3.4" height="3.4"/>
<rect x="438.6" y="655.5" width="3.4" height="3.4"/>
<rect x="438.6" y="660.2" width="3.4" height="3.4"/>
<rect x="441.8" y="646.7" width="3.4" height="3.4"/>
<rect x="445.2" y="634.8" width="3.4" height="3.4"/>
<rect x="445.2" y="638" width="3.4" height="3.4"/>
<rect x="445.2" y="641.2" width="3.4" height="3.4"/>
<rect x="445.2" y="662.8" width="3.4" height="3.4"/>
<rect x="451.7" y="633.6" width="3.4" height="3.4"/>
<rect x="451.7" y="640.2" width="3.4" height="3.4"/>
<rect x="451.7" y="660.6" width="3.4" height="3.4"/>
</g>
<g fill="#1a1a1a">
<path d="M584.40 424.95L584.87 426.05L586.06 426.16L585.16 426.95L585.43 428.12L584.40 427.50L583.37 428.12L583.64 426.95L582.74 426.16L583.93 426.05Z"/>
<path d="M584.40 450.95L584.87 452.05L586.06 452.16L585.16 452.95L585.43 454.12L584.40 453.50L583.37 454.12L583.64 452.95L582.74 452.16L583.93 452.05Z"/>
<path d="M577.80 460.25L578.27 461.35L579.46 461.46L578.56 462.25L578.83 463.42L577.80 462.80L576.77 463.42L577.04 462.25L576.14 461.46L577.33 461.35Z"/>
<path d="M584.40 458.55L584.87 459.65L586.06 459.76L585.16 460.55L585.43 461.72L584.40 461.10L583.37 461.72L583.64 460.55L582.74 459.76L583.93 459.65Z"/>
<path d="M590.90 457.35L591.37 458.45L592.56 458.56L591.66 459.35L591.93 460.52L590.90 459.90L589.87 460.52L590.14 459.35L589.24 458.56L590.43 458.45Z"/>
<path d="M577.80 466.95L578.27 468.05L579.46 468.16L578.56 468.95L578.83 470.12L577.80 469.50L576.77 470.12L577.04 468.95L576.14 468.16L577.33 468.05Z"/>
<path d="M584.40 468.25L584.87 469.35L586.06 469.46L585.16 470.25L585.43 471.42L584.40 470.80L583.37 471.42L583.64 470.25L582.74 469.46L583.93 469.35Z"/>
<path d="M590.90 467.75L591.37 468.85L592.56 468.96L591.66 469.75L591.93 470.92L590.90 470.30L589.87 470.92L590.14 469.75L589.24 468.96L590.43 468.85Z"/>
<path d="M597.50 466.95L597.97 468.05L599.16 468.16L598.26 468.95L598.53 470.12L597.50 469.50L596.47 470.12L596.74 468.95L595.84 468.16L597.03 468.05Z"/>
<path d="M577.80 477.05L578.27 478.15L579.46 478.26L578.56 479.05L578.83 480.22L577.80 479.60L576.77 480.22L577.04 479.05L576.14 478.26L577.33 478.15Z"/>
<path d="M584.40 474.85L584.87 475.95L586.06 476.06L585.16 476.85L585.43 478.02L584.40 477.40L583.37 478.02L583.64 476.85L582.74 476.06L583.93 475.95Z"/>
<path d="M590.90 474.55L591.37 475.65L592.56 475.76L591.66 476.55L591.93 477.72L590.90 477.10L589.87 477.72L590.14 476.55L589.24 475.76L590.43 475.65Z"/>
<path d="M584.40 482.55L584.87 483.65L586.06 483.76L585.16 484.55L585.43 485.72L584.40 485.10L583.37 485.72L583.64 484.55L582.74 483.76L583.93 483.65Z"/>
<path d="M584.40 490.65L584.87 491.75L586.06 491.86L585.16 492.65L585.43 493.82L584.40 493.20L583.37 493.82L583.64 492.65L582.74 491.86L583.93 491.75Z"/>
<path d="M584.40 502.35L584.87 503.45L586.06 503.56L585.16 504.35L585.43 505.52L584.40 504.90L583.37 505.52L583.64 504.35L582.74 503.56L583.93 503.45Z"/>
<path d="M584.40 506.25L584.87 507.35L586.06 507.46L585.16 508.25L585.43 509.42L584.40 508.80L583.37 509.42L583.64 508.25L582.74 507.46L583.93 507.35Z"/>
<path d="M571.20 511.75L571.67 512.85L572.86 512.96L571.96 513.75L572.23 514.92L571.20 514.30L570.17 514.92L570.44 513.75L569.54 512.96L570.73 512.85Z"/>
<path d="M584.40 511.35L584.87 512.45L586.06 512.56L585.16 513.35L585.43 514.52L584.40 513.90L583.37 514.52L583.64 513.35L582.74 512.56L583.93 512.45Z"/>
<path d="M597.50 511.75L597.97 512.85L599.16 512.96L598.26 513.75L598.53 514.92L597.50 514.30L596.47 514.92L596.74 513.75L595.84 512.96L597.03 512.85Z"/>
<path d="M590.90 512.85L591.37 513.95L592.56 514.06L591.66 514.85L591.93 516.02L590.90 515.40L589.87 516.02L590.14 514.85L589.24 514.06L590.43 513.95Z"/>
<path d="M571.20 520.75L571.67 521.85L572.86 521.96L571.96 522.75L572.23 523.92L571.20 523.30L570.17 523.92L570.44 522.75L569.54 521.96L570.73 521.85Z"/>
<path d="M571.20 544.85L571.67 545.95L572.86 546.06L571.96 546.85L572.23 548.02L571.20 547.40L570.17 548.02L570.44 546.85L569.54 546.06L570.73 545.95Z"/>
<path d="M571.20 592.95L571.67 594.05L572.86 594.16L571.96 594.95L572.23 596.12L571.20 595.50L570.17 596.12L570.44 594.95L569.54 594.16L570.73 594.05Z"/>
<path d="M571.20 599.95L571.67 601.05L572.86 601.16L571.96 601.95L572.23 603.12L571.20 602.50L570.17 603.12L570.44 601.95L569.54 601.16L570.73 601.05Z"/>
<path d="M571.20 606.55L571.67 607.65L572.86 607.76L571.96 608.55L572.23 609.72L571.20 609.10L570.17 609.72L570.44 608.55L569.54 607.76L570.73 607.65Z"/>
<path d="M571.20 610.05L571.67 611.15L572.86 611.26L571.96 612.05L572.23 613.22L571.20 612.60L570.17 613.22L570.44 612.05L569.54 611.26L570.73 611.15Z"/>
<path d="M571.20 619.65L571.67 620.75L572.86 620.86L571.96 621.65L572.23 622.82L571.20 622.20L570.17 622.82L570.44 621.65L569.54 620.86L570.73 620.75Z"/>
<path d="M577.80 516.05L578.27 517.15L579.46 517.26L578.56 518.05L578.83 519.22L577.80 518.60L576.77 519.22L577.04 518.05L576.14 517.26L577.33 517.15Z"/>
<path d="M577.80 520.05L578.27 521.15L579.46 521.26L578.56 522.05L578.83 523.22L577.80 522.60L576.77 523.22L577.04 522.05L576.14 521.26L577.33 521.15Z"/>
<path d="M577.80 523.35L578.27 524.45L579.46 524.56L578.56 525.35L578.83 526.52L577.80 525.90L576.77 526.52L577.04 525.35L576.14 524.56L577.33 524.45Z"/>
<path d="M577.80 530.65L578.27 531.75L579.46 531.86L578.56 532.65L578.83 533.82L577.80 533.20L576.77 533.82L577.04 532.65L576.14 531.86L577.33 531.75Z"/>
<path d="M577.80 537.85L578.27 538.95L579.46 539.06L578.56 539.85L578.83 541.02L577.80 540.40L576.77 541.02L577.04 539.85L576.14 539.06L577.33 538.95Z"/>
<path d="M577.80 547.05L578.27 548.15L579.46 548.26L578.56 549.05L578.83 550.22L577.80 549.60L576.77 550.22L577.04 549.05L576.14 548.26L577.33 548.15Z"/>
<path d="M577.80 550.65L578.27 551.75L579.46 551.86L578.56 552.65L578.83 553.82L577.80 553.20L576.77 553.82L577.04 552.65L576.14 551.86L577.33 551.75Z"/>
<path d="M577.80 558.75L578.27 559.85L579.46 559.96L578.56 560.75L578.83 561.92L577.80 561.30L576.77 561.92L577.04 560.75L576.14 559.96L577.33 559.85Z"/>
<path d="M577.80 562.05L578.27 563.15L579.46 563.26L578.56 564.05L578.83 565.22L577.80 564.60L576.77 565.22L577.04 564.05L576.14 563.26L577.33 563.15Z"/>
<path d="M577.80 565.25L578.27 566.35L579.46 566.46L578.56 567.25L578.83 568.42L577.80 567.80L576.77 568.42L577.04 567.25L576.14 566.46L577.33 566.35Z"/>
<path d="M577.80 569.25L578.27 570.35L579.46 570.46L578.56 571.25L578.83 572.42L577.80 571.80L576.77 572.42L577.04 571.25L576.14 570.46L577.33 570.35Z"/>
<path d="M577.80 575.85L578.27 576.95L579.46 577.06L578.56 577.85L578.83 579.02L577.80 578.40L576.77 579.02L577.04 577.85L576.14 577.06L577.33 576.95Z"/>
<path d="M577.80 587.15L578.27 588.25L579.46 588.36L578.56 589.15L578.83 590.32L577.80 589.70L576.77 590.32L577.04 589.15L576.14 588.36L577.33 588.25Z"/>
<path d="M577.80 593.65L578.27 594.75L579.46 594.86L578.56 595.65L578.83 596.82L577.80 596.20L576.77 596.82L577.04 595.65L576.14 594.86L577.33 594.75Z"/>
<path d="M577.80 603.15L578.27 604.25L579.46 604.36L578.56 605.15L578.83 606.32L577.80 605.70L576.77 606.32L577.04 605.15L576.14 604.36L577.33 604.25Z"/>
<path d="M577.80 610.45L578.27 611.55L579.46 611.66L578.56 612.45L578.83 613.62L577.80 613.00L576.77 613.62L577.04 612.45L576.14 611.66L577.33 611.55Z"/>
<path d="M577.80 614.45L578.27 615.55L579.46 615.66L578.56 616.45L578.83 617.62L577.80 617.00L576.77 617.62L577.04 616.45L576.14 615.66L577.33 615.55Z"/>
<path d="M577.80 619.25L578.27 620.35L579.46 620.46L578.56 621.25L578.83 622.42L577.80 621.80L576.77 622.42L577.04 621.25L576.14 620.46L577.33 620.35Z"/>
<path d="M577.80 622.55L578.27 623.65L579.46 623.76L578.56 624.55L578.83 625.72L577.80 625.10L576.77 625.72L577.04 624.55L576.14 623.76L577.33 623.65Z"/>
<path d="M577.80 626.05L578.27 627.15L579.46 627.26L578.56 628.05L578.83 629.22L577.80 628.60L576.77 629.22L577.04 628.05L576.14 627.26L577.33 627.15Z"/>
<path d="M577.80 649.45L578.27 650.55L579.46 650.66L578.56 651.45L578.83 652.62L577.80 652.00L576.77 652.62L577.04 651.45L576.14 650.66L577.33 650.55Z"/>
<path d="M577.80 660.55L578.27 661.65L579.46 661.76L578.56 662.55L578.83 663.72L577.80 663.10L576.77 663.72L577.04 662.55L576.14 661.76L577.33 661.65Z"/>
<path d="M584.40 521.45L584.87 522.55L586.06 522.66L585.16 523.45L585.43 524.62L584.40 524.00L583.37 524.62L583.64 523.45L582.74 522.66L583.93 522.55Z"/>
<path d="M584.40 528.05L584.87 529.15L586.06 529.26L585.16 530.05L585.43 531.22L584.40 530.60L583.37 531.22L583.64 530.05L582.74 529.26L583.93 529.15Z"/>
<path d="M584.40 532.45L584.87 533.55L586.06 533.66L585.16 534.45L585.43 535.62L584.40 535.00L583.37 535.62L583.64 534.45L582.74 533.66L583.93 533.55Z"/>
<path d="M584.40 540.95L584.87 542.05L586.06 542.16L585.16 542.95L585.43 544.12L584.40 543.50L583.37 544.12L583.64 542.95L582.74 542.16L583.93 542.05Z"/>
<path d="M584.40 544.85L584.87 545.95L586.06 546.06L585.16 546.85L585.43 548.02L584.40 547.40L583.37 548.02L583.64 546.85L582.74 546.06L583.93 545.95Z"/>
<path d="M584.40 549.25L584.87 550.35L586.06 550.46L585.16 551.25L585.43 552.42L584.40 551.80L583.37 552.42L583.64 551.25L582.74 550.46L583.93 550.35Z"/>
<path d="M584.40 554.05L584.87 555.15L586.06 555.26L585.16 556.05L585.43 557.22L584.40 556.60L583.37 557.22L583.64 556.05L582.74 555.26L583.93 555.15Z"/>
<path d="M584.40 558.75L584.87 559.85L586.06 559.96L585.16 560.75L585.43 561.92L584.40 561.30L583.37 561.92L583.64 560.75L582.74 559.96L583.93 559.85Z"/>
<path d="M584.40 562.85L584.87 563.95L586.06 564.06L585.16 564.85L585.43 566.02L584.40 565.40L583.37 566.02L583.64 564.85L582.74 564.06L583.93 563.95Z"/>
<path d="M584.40 566.75L584.87 567.85L586.06 567.96L585.16 568.75L585.43 569.92L584.40 569.30L583.37 569.92L583.64 568.75L582.74 567.96L583.93 567.85Z"/>
<path d="M584.40 571.55L584.87 572.65L586.06 572.76L585.16 573.55L585.43 574.72L584.40 574.10L583.37 574.72L583.64 573.55L582.74 572.76L583.93 572.65Z"/>
<path d="M584.40 576.25L584.87 577.35L586.06 577.46L585.16 578.25L585.43 579.42L584.40 578.80L583.37 579.42L583.64 578.25L582.74 577.46L583.93 577.35Z"/>
<path d="M584.40 582.05L584.87 583.15L586.06 583.26L585.16 584.05L585.43 585.22L584.40 584.60L583.37 585.22L583.64 584.05L582.74 583.26L583.93 583.15Z"/>
<path d="M584.40 587.55L584.87 588.65L586.06 588.76L585.16 589.55L585.43 590.72L584.40 590.10L583.37 590.72L583.64 589.55L582.74 588.76L583.93 588.65Z"/>
<path d="M584.40 592.25L584.87 593.35L586.06 593.46L585.16 594.25L585.43 595.42L584.40 594.80L583.37 595.42L583.64 594.25L582.74 593.46L583.93 593.35Z"/>
<path d="M584.40 598.05L584.87 599.15L586.06 599.26L585.16 600.05L585.43 601.22L584.40 600.60L583.37 601.22L583.64 600.05L582.74 599.26L583.93 599.15Z"/>
<path d="M584.40 603.15L584.87 604.25L586.06 604.36L585.16 605.15L585.43 606.32L584.40 605.70L583.37 606.32L583.64 605.15L582.74 604.36L583.93 604.25Z"/>
<path d="M584.40 608.25L584.87 609.35L586.06 609.46L585.16 610.25L585.43 611.42L584.40 610.80L583.37 611.42L583.64 610.25L582.74 609.46L583.93 609.35Z"/>
<path d="M584.40 612.35L584.87 613.45L586.06 613.56L585.16 614.35L585.43 615.52L584.40 614.90L583.37 615.52L583.64 614.35L582.74 613.56L583.93 613.45Z"/>
<path d="M584.40 620.65L584.87 621.75L586.06 621.86L585.16 622.65L585.43 623.82L584.40 623.20L583.37 623.82L583.64 622.65L582.74 621.86L583.93 621.75Z"/>
<path d="M584.40 624.35L584.87 625.45L586.06 625.56L585.16 626.35L585.43 627.52L584.40 626.90L583.37 627.52L583.64 626.35L582.74 625.56L583.93 625.45Z"/>
<path d="M584.40 630.95L584.87 632.05L586.06 632.16L585.16 632.95L585.43 634.12L584.40 633.50L583.37 634.12L583.64 632.95L582.74 632.16L583.93 632.05Z"/>
<path d="M584.40 636.05L584.87 637.15L586.06 637.26L585.16 638.05L585.43 639.22L584.40 638.60L583.37 639.22L583.64 638.05L582.74 637.26L583.93 637.15Z"/>
<path d="M584.40 652.35L584.87 653.45L586.06 653.56L585.16 654.35L585.43 655.52L584.40 654.90L583.37 655.52L583.64 654.35L582.74 653.56L583.93 653.45Z"/>
<path d="M584.40 657.65L584.87 658.75L586.06 658.86L585.16 659.65L585.43 660.82L584.40 660.20L583.37 660.82L583.64 659.65L582.74 658.86L583.93 658.75Z"/>
<path d="M581.00 639.65L581.47 640.75L582.66 640.86L581.76 641.65L582.03 642.82L581.00 642.20L579.97 642.82L580.24 641.65L579.34 640.86L580.53 640.75Z"/>
<path d="M587.70 640.65L588.17 641.75L589.36 641.86L588.46 642.65L588.73 643.82L587.70 643.20L586.67 643.82L586.94 642.65L586.04 641.86L587.23 641.75Z"/>
<path d="M590.90 523.35L591.37 524.45L592.56 524.56L591.66 525.35L591.93 526.52L590.90 525.90L589.87 526.52L590.14 525.35L589.24 524.56L590.43 524.45Z"/>
<path d="M590.90 539.05L591.37 540.15L592.56 540.26L591.66 541.05L591.93 542.22L590.90 541.60L589.87 542.22L590.14 541.05L589.24 540.26L590.43 540.15Z"/>
<path d="M590.90 546.65L591.37 547.75L592.56 547.86L591.66 548.65L591.93 549.82L590.90 549.20L589.87 549.82L590.14 548.65L589.24 547.86L590.43 547.75Z"/>
<path d="M590.90 562.35L591.37 563.45L592.56 563.56L591.66 564.35L591.93 565.52L590.90 564.90L589.87 565.52L590.14 564.35L589.24 563.56L590.43 563.45Z"/>
<path d="M590.90 571.55L591.37 572.65L592.56 572.76L591.66 573.55L591.93 574.72L590.90 574.10L589.87 574.72L590.14 573.55L589.24 572.76L590.43 572.65Z"/>
<path d="M590.90 577.75L591.37 578.85L592.56 578.96L591.66 579.75L591.93 580.92L590.90 580.30L589.87 580.92L590.14 579.75L589.24 578.96L590.43 578.85Z"/>
<path d="M590.90 581.75L591.37 582.85L592.56 582.96L591.66 583.75L591.93 584.92L590.90 584.30L589.87 584.92L590.14 583.75L589.24 582.96L590.43 582.85Z"/>
<path d="M590.90 589.05L591.37 590.15L592.56 590.26L591.66 591.05L591.93 592.22L590.90 591.60L589.87 592.22L590.14 591.05L589.24 590.26L590.43 590.15Z"/>
<path d="M590.90 592.95L591.37 594.05L592.56 594.16L591.66 594.95L591.93 596.12L590.90 595.50L589.87 596.12L590.14 594.95L589.24 594.16L590.43 594.05Z"/>
<path d="M590.90 596.65L591.37 597.75L592.56 597.86L591.66 598.65L591.93 599.82L590.90 599.20L589.87 599.82L590.14 598.65L589.24 597.86L590.43 597.75Z"/>
<path d="M590.90 605.05L591.37 606.15L592.56 606.26L591.66 607.05L591.93 608.22L590.90 607.60L589.87 608.22L590.14 607.05L589.24 606.26L590.43 606.15Z"/>
<path d="M590.90 611.25L591.37 612.35L592.56 612.46L591.66 613.25L591.93 614.42L590.90 613.80L589.87 614.42L590.14 613.25L589.24 612.46L590.43 612.35Z"/>
<path d="M590.90 622.15L591.37 623.25L592.56 623.36L591.66 624.15L591.93 625.32L590.90 624.70L589.87 625.32L590.14 624.15L589.24 623.36L590.43 623.25Z"/>
<path d="M590.90 629.15L591.37 630.25L592.56 630.36L591.66 631.15L591.93 632.32L590.90 631.70L589.87 632.32L590.14 631.15L589.24 630.36L590.43 630.25Z"/>
<path d="M590.90 657.95L591.37 659.05L592.56 659.16L591.66 659.95L591.93 661.12L590.90 660.50L589.87 661.12L590.14 659.95L589.24 659.16L590.43 659.05Z"/>
<path d="M597.50 522.65L597.97 523.75L599.16 523.86L598.26 524.65L598.53 525.82L597.50 525.20L596.47 525.82L596.74 524.65L595.84 523.86L597.03 523.75Z"/>
<path d="M597.50 561.95L597.97 563.05L599.16 563.16L598.26 563.95L598.53 565.12L597.50 564.50L596.47 565.12L596.74 563.95L595.84 563.16L597.03 563.05Z"/>
<path d="M597.50 575.05L597.97 576.15L599.16 576.26L598.26 577.05L598.53 578.22L597.50 577.60L596.47 578.22L596.74 577.05L595.84 576.26L597.03 576.15Z"/>
<path d="M597.50 593.95L597.97 595.05L599.16 595.16L598.26 595.95L598.53 597.12L597.50 596.50L596.47 597.12L596.74 595.95L595.84 595.16L597.03 595.05Z"/>
<path d="M597.50 600.25L597.97 601.35L599.16 601.46L598.26 602.25L598.53 603.42L597.50 602.80L596.47 603.42L596.74 602.25L595.84 601.46L597.03 601.35Z"/>
<path d="M597.50 607.15L597.97 608.25L599.16 608.36L598.26 609.15L598.53 610.32L597.50 609.70L596.47 610.32L596.74 609.15L595.84 608.36L597.03 608.25Z"/>
<path d="M597.50 610.45L597.97 611.55L599.16 611.66L598.26 612.45L598.53 613.62L597.50 613.00L596.47 613.62L596.74 612.45L595.84 611.66L597.03 611.55Z"/>
<path d="M597.50 620.65L597.97 621.75L599.16 621.86L598.26 622.65L598.53 623.82L597.50 623.20L596.47 623.82L596.74 622.65L595.84 621.86L597.03 621.75Z"/>
<path d="M564.70 591.45L565.17 592.55L566.36 592.66L565.46 593.45L565.73 594.62L564.70 594.00L563.67 594.62L563.94 593.45L563.04 592.66L564.23 592.55Z"/>
<path d="M564.70 616.75L565.17 617.85L566.36 617.96L565.46 618.75L565.73 619.92L564.70 619.30L563.67 619.92L563.94 618.75L563.04 617.96L564.23 617.85Z"/>
<path d="M564.70 621.15L565.17 622.25L566.36 622.36L565.46 623.15L565.73 624.32L564.70 623.70L563.67 624.32L563.94 623.15L563.04 622.36L564.23 622.25Z"/>
<path d="M604.10 617.05L604.57 618.15L605.76 618.26L604.86 619.05L605.13 620.22L604.10 619.60L603.07 620.22L603.34 619.05L602.44 618.26L603.63 618.15Z"/>
<path d="M604.10 620.65L604.57 621.75L605.76 621.86L604.86 622.65L605.13 623.82L604.10 623.20L603.07 623.82L603.34 622.65L602.44 621.86L603.63 621.75Z"/>
</g>
</svg>
</body></html>
